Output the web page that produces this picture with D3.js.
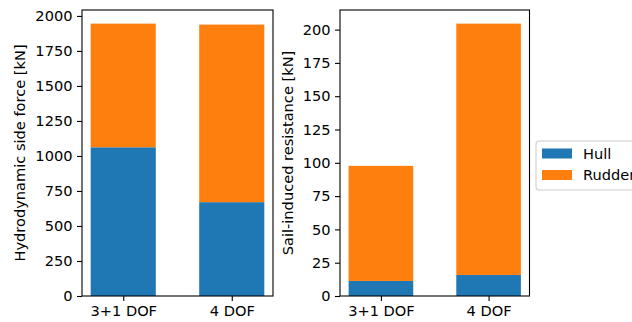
<!DOCTYPE html>
<html>
<head>
<meta charset="utf-8">
<script src="https://cdn.jsdelivr.net/npm/d3@7"></script>
<style>
  html, body { margin: 0; padding: 0; background: #fff; overflow: hidden; }
  svg { display: block; }
  svg text { font-family: "DejaVu Sans", sans-serif; }
</style>
</head>
<body>
<div id="chart"></div>
<script>
// data
const categories = ["3+1 DOF", "4 DOF"];
const series = ["Hull", "Rudder"];
const sideHull = [1062, 670];
const sideRudder = [883, 1268];
const resHull = [11.3, 15.8];
const resRudder = [86.4, 188.7];
const sideTicks = [0, 250, 500, 750, 1000, 1250, 1500, 1750, 2000];
const resTicks = [0, 25, 50, 75, 100, 125, 150, 175, 200];
const colors = ["#1f77b4", "#ff7f0e"];

const W = 632, H = 322;
const fontPx = 14.6;
const FONT = "DejaVu Sans";

const svg = d3.select("#chart").append("svg")
  .attr("width", W)
  .attr("height", H);

function drawPanel(box, hull, rudder, ticks, ylabel, labelX) {
  const totals = hull.map((h, i) => h + rudder[i]);
  const x = d3.scaleLinear().domain([-0.38, 1.38]).range([box.x0, box.x1]);
  const y = d3.scaleLinear().domain([0, d3.max(totals) * 1.05]).range([box.y1, box.y0]);
  const barW = x(0.6) - x(0);

  const g = svg.append("g");

  // stacked bars
  categories.forEach((c, i) => {
    g.append("rect")
      .attr("x", x(i) - barW / 2)
      .attr("width", barW)
      .attr("y", y(hull[i]))
      .attr("height", y(0) - y(hull[i]))
      .attr("fill", colors[0]);
    g.append("rect")
      .attr("x", x(i) - barW / 2)
      .attr("width", barW)
      .attr("y", y(totals[i]))
      .attr("height", y(hull[i]) - y(totals[i]))
      .attr("fill", colors[1]);
  });

  // frame
  g.append("rect")
    .attr("x", box.x0)
    .attr("y", box.y0)
    .attr("width", box.x1 - box.x0)
    .attr("height", box.y1 - box.y0)
    .attr("fill", "none")
    .attr("stroke", "#000")
    .attr("stroke-width", 1.1);

  // axes
  const yAxis = g.append("g")
    .attr("transform", `translate(${box.x0},0)`)
    .call(d3.axisLeft(y).tickValues(ticks).tickFormat(d3.format("d")).tickSize(5).tickPadding(4.5));
  const xAxis = g.append("g")
    .attr("transform", `translate(0,${box.y1})`)
    .call(d3.axisBottom(x).tickValues([0, 1]).tickFormat(i => categories[i]).tickSize(5).tickPadding(4.5));
  [yAxis, xAxis].forEach(a => {
    a.attr("font-size", null).attr("font-family", null);
    a.select(".domain").remove();
    a.selectAll(".tick line").attr("stroke", "#000").attr("stroke-width", 1.1);
    a.selectAll(".tick text")
      .attr("fill", "#000")
      .style("font-family", FONT)
      .style("font-size", fontPx + "px");
  });

  g.append("text")
    .attr("transform", `translate(${labelX},${(box.y0 + box.y1) / 2}) rotate(-90)`)
    .attr("text-anchor", "middle")
    .attr("dy", "0.35em")
    .style("font-family", FONT)
    .style("font-size", fontPx + "px")
    .attr("fill", "#000")
    .text(ylabel);
}

drawPanel({ x0: 82, x1: 273, y0: 10, y1: 296 }, sideHull, sideRudder, sideTicks,
  "Hydrodynamic side force [kN]", 19.5);
drawPanel({ x0: 340, x1: 529.5, y0: 10, y1: 296 }, resHull, resRudder, resTicks,
  "Sail-induced resistance [kN]", 287.5);

// legend
const leg = svg.append("g");
leg.append("rect")
  .attr("x", 536)
  .attr("y", 141)
  .attr("width", 120)
  .attr("height", 49)
  .attr("rx", 3)
  .attr("fill", "#fff")
  .attr("fill-opacity", 0.8)
  .attr("stroke", "#cccccc")
  .attr("stroke-width", 1.1);
series.forEach((s, i) => {
  const cy = 153.5 + i * 21.5;
  leg.append("rect")
    .attr("x", 542)
    .attr("y", cy - 5)
    .attr("width", 30)
    .attr("height", 10)
    .attr("fill", colors[i]);
  leg.append("text")
    .attr("x", 583)
    .attr("y", cy)
    .attr("dy", "0.35em")
    .style("font-family", FONT)
    .style("font-size", fontPx + "px")
    .attr("fill", "#000")
    .text(s);
});
</script>
</body>
</html>
